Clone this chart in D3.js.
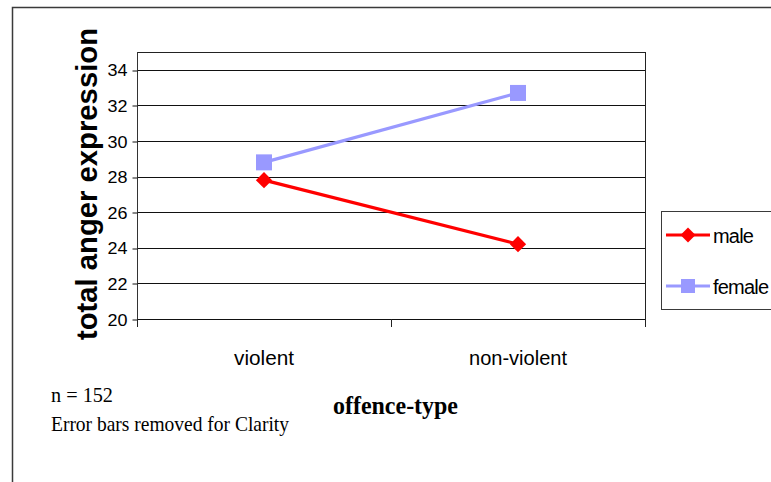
<!DOCTYPE html>
<html>
<head>
<meta charset="utf-8">
<script src="https://cdn.jsdelivr.net/npm/d3@7"></script>
<style>
  html, body { margin: 0; padding: 0; background: #fff; }
  svg { display: block; }
</style>
</head>
<body>
<svg id="chart" width="771" height="482"></svg>
<script>
// Offence-type by gender means
const categories = ["violent", "non-violent"];
const maleValues = [27.8, 24.2];
const femaleValues = [28.8, 32.7];
const yTicks = [20, 22, 24, 26, 28, 30, 32, 34];
const seriesNames = ["male", "female"];

const series = [
  { name: seriesNames[0], values: maleValues, color: "#FF0000", shape: "diamond" },
  { name: seriesNames[1], values: femaleValues, color: "#9999FF", shape: "square" }
];

const svg = d3.select("#chart");
const sans = "'Liberation Sans', Arial, sans-serif";
const serif = "'Liberation Serif', 'Times New Roman', serif";

// Outer chart frame (runs past the right and bottom edges)
svg.append("rect")
  .attr("x", 12.5).attr("y", 7.5)
  .attr("width", 820).attr("height", 520)
  .attr("fill", "#fff").attr("stroke", "#3a3a3a").attr("stroke-width", 1.5);

const plot = { left: 137, right: 645, top: 52, bottom: 319 };

const x = d3.scaleBand().domain(categories).range([plot.left, plot.right]).padding(0);
const y = d3.scaleLinear().domain([20, 35]).range([plot.bottom, plot.top]);

// Plot area border
svg.append("rect")
  .attr("x", plot.left + 0.5).attr("y", plot.top + 0.5)
  .attr("width", plot.right - plot.left).attr("height", plot.bottom - plot.top)
  .attr("fill", "none").attr("stroke", "#222").attr("stroke-width", 1);

// Horizontal gridlines
svg.append("g")
  .selectAll("line")
  .data(yTicks.filter(t => t > 20))
  .join("line")
  .attr("x1", plot.left).attr("x2", plot.right)
  .attr("y1", d => Math.round(y(d)) + 0.5).attr("y2", d => Math.round(y(d)) + 0.5)
  .attr("stroke", "#111").attr("stroke-width", 1);

// Y axis
const yAxis = svg.append("g")
  .attr("transform", `translate(${plot.left + 0.5},0)`)
  .call(d3.axisLeft(y).tickValues(yTicks).tickSize(5).tickPadding(4).tickFormat(d3.format("d")));
yAxis.select(".domain").attr("d", `M0,${plot.top}V${plot.bottom + 8}`).attr("stroke", "#333");
yAxis.selectAll(".tick line").attr("stroke", "#111")
  .attr("transform", d => `translate(0,${Math.round(y(d)) + 0.5 - y(d)})`);
yAxis.selectAll(".tick text")
  .attr("font-family", sans).attr("font-size", 17).attr("fill", "#000")
  .attr("x", -10).attr("dy", "0.36em")
  .attr("textLength", 20).attr("lengthAdjust", "spacingAndGlyphs");

// X axis: baseline plus category boundary ticks
svg.append("line")
  .attr("x1", plot.left).attr("x2", plot.right)
  .attr("y1", plot.bottom + 0.5).attr("y2", plot.bottom + 0.5)
  .attr("stroke", "#111");
const boundaries = categories.map(c => x(c)).concat([x(categories[categories.length - 1]) + x.bandwidth()]);
svg.append("g").selectAll("line")
  .data(boundaries)
  .join("line")
  .attr("x1", d => Math.round(d) + 0.5).attr("x2", d => Math.round(d) + 0.5)
  .attr("y1", plot.bottom).attr("y2", plot.bottom + 8)
  .attr("stroke", "#222");

const xLabelWidths = { "violent": 60, "non-violent": 98 };
svg.append("g").selectAll("text")
  .data(categories)
  .join("text")
  .attr("x", d => x(d) + x.bandwidth() / 2)
  .attr("y", 365)
  .attr("text-anchor", "middle")
  .attr("font-family", sans).attr("font-size", 20)
  .attr("textLength", d => xLabelWidths[d]).attr("lengthAdjust", "spacingAndGlyphs")
  .text(d => d);

// Y axis title
svg.append("text")
  .attr("transform", "translate(97,184) rotate(-90)")
  .attr("text-anchor", "middle")
  .attr("font-family", sans).attr("font-size", 29).attr("font-weight", "bold")
  .attr("textLength", 312).attr("lengthAdjust", "spacingAndGlyphs")
  .text("total anger expression");

// X axis title
svg.append("text")
  .attr("x", 333).attr("y", 414)
  .attr("font-family", serif).attr("font-size", 25).attr("font-weight", "bold")
  .attr("textLength", 125).attr("lengthAdjust", "spacingAndGlyphs")
  .text("offence-type");

// Notes
svg.append("text")
  .attr("x", 51).attr("y", 402)
  .attr("font-family", serif).attr("font-size", 22)
  .attr("textLength", 62).attr("lengthAdjust", "spacingAndGlyphs")
  .text("n = 152");
svg.append("text")
  .attr("x", 51).attr("y", 431)
  .attr("font-family", serif).attr("font-size", 21)
  .attr("textLength", 238).attr("lengthAdjust", "spacingAndGlyphs")
  .text("Error bars removed for Clarity");

// Series lines and markers
const cx = c => x(c) + x.bandwidth() / 2;
const line = d3.line().x(d => cx(d.cat)).y(d => y(d.v));

series.forEach(s => {
  const pts = categories.map((c, i) => ({ cat: c, v: s.values[i] }));
  svg.append("path")
    .datum(pts)
    .attr("d", line)
    .attr("fill", "none")
    .attr("stroke", s.color)
    .attr("stroke-width", 3.2);
  svg.append("g").selectAll("path")
    .data(pts)
    .join("path")
    .attr("fill", s.color)
    .attr("d", d3.symbol().type(d3.symbolSquare).size(s.shape === "diamond" ? 132 : 256)())
    .attr("transform", d => `translate(${cx(d.cat)},${y(d.v)})` + (s.shape === "diamond" ? " rotate(45)" : ""));
});

// Legend
const legend = svg.append("g");
legend.append("rect")
  .attr("x", 661.5).attr("y", 211.5)
  .attr("width", 140).attr("height", 98)
  .attr("fill", "#fff").attr("stroke", "#3a3a3a").attr("stroke-width", 1);
const legendY = [235, 286];
series.forEach((s, i) => {
  const g = legend.append("g").attr("transform", `translate(0,${legendY[i]})`);
  g.append("line")
    .attr("x1", 666).attr("x2", 710).attr("y1", 0).attr("y2", 0)
    .attr("stroke", s.color).attr("stroke-width", 3.2);
  g.append("path")
    .attr("fill", s.color)
    .attr("d", d3.symbol().type(d3.symbolSquare).size(s.shape === "diamond" ? 112 : 196)())
    .attr("transform", `translate(688,0)` + (s.shape === "diamond" ? " rotate(45)" : ""));
  g.append("text")
    .attr("x", 713).attr("y", 8)
    .attr("font-family", sans).attr("font-size", 20)
    .attr("letter-spacing", -0.8)
    .text(s.name);
});
</script>
</body>
</html>
